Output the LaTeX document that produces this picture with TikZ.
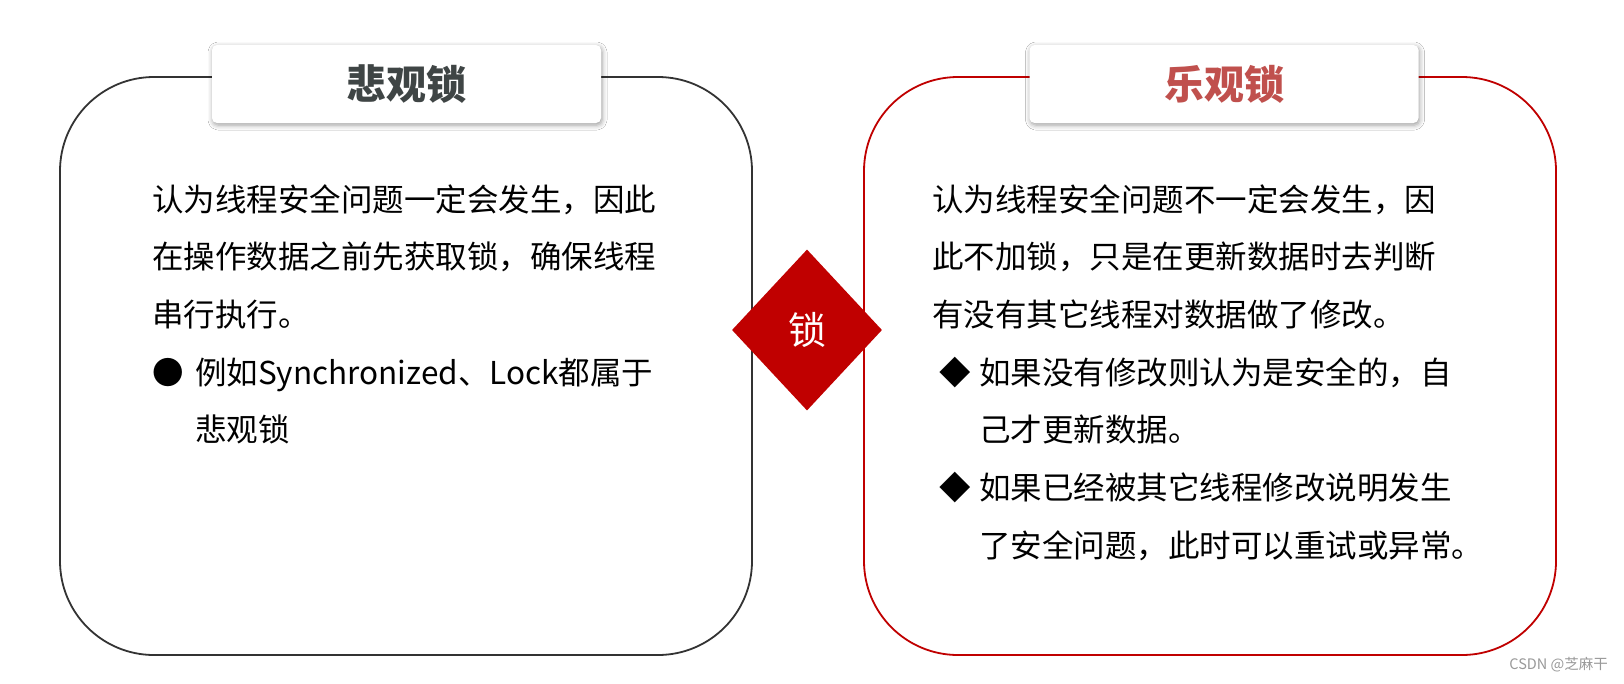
\documentclass[tikz,border=0pt]{standalone}
\usepackage{fontspec}
\setmainfont{Noto Sans CJK SC}
\usetikzlibrary{shapes.geometric,shadows.blur,positioning}

\definecolor{lockred}{HTML}{C00000}
\definecolor{titlered}{HTML}{C0504D}
\definecolor{titlegray}{HTML}{3F4545}

\begin{document}
\begin{tikzpicture}[
  x=1pt, y=-1pt,
  panel/.style={rectangle, rounded corners=94pt, line width=1.8pt,
    minimum width=692pt, minimum height=578pt},
  titlebox/.style={rectangle, rounded corners=5pt, fill=white,
    minimum width=389pt, minimum height=78pt,
    blur shadow={shadow xshift=1pt, shadow yshift=-2pt, shadow blur radius=5pt},
    font=\fontsize{40pt}{48pt}\selectfont\bfseries},
  body/.style={anchor=north west, align=left, inner sep=0pt,
    font=\fontsize{31.5pt}{57.7pt}\selectfont},
]
  \fill[white] (0,0) rectangle (1624,683);
  \useasboundingbox (0,0) rectangle (1624,683);

  % the two panels
  \node[panel, draw=black!80] (pess) at (406,366) {};
  \node[panel, draw=lockred]  (opt)  at (1210,366) {};

  \node[titlebox, text=titlegray] (pesstitle) at (406.5,84) {悲观锁};
  \node[titlebox, text=titlered]  (opttitle)  at (1224,84) {乐观锁};

  % texts
  \node[body] (pesstext) at (152,184) {认为线程安全问题一定会发生，因此\\
    在操作数据之前先获取锁，确保线程\\
    串行执行。\\
    \makebox[43pt][l]{●}例如Synchronized、Lock都属于\\
    \hspace*{43pt}悲观锁};

  \node[body] (opttext) at (932,184) {认为线程安全问题不一定会发生，因\\
    此不加锁，只是在更新数据时去判断\\
    有没有其它线程对数据做了修改。\\
    \makebox[47pt][c]{◆}如果没有修改则认为是安全的，自\\
    \hspace*{47pt}己才更新数据。\\
    \makebox[47pt][c]{◆}如果已经被其它线程修改说明发生\\
    \hspace*{47pt}了安全问题，此时可以重试或异常。};

  % the lock in between
  \node[diamond, fill=lockred, minimum width=150pt, minimum height=161pt,
    inner sep=0pt, text=white, font=\fontsize{38pt}{40pt}\selectfont]
    (lock) at (807,330) {锁};

  \node[anchor=east, inner sep=0pt, text=black!40,
    font=\fontsize{14.5pt}{16pt}\selectfont] (mark) at (1608,665) {CSDN @芝麻干};
\end{tikzpicture}
\end{document}
